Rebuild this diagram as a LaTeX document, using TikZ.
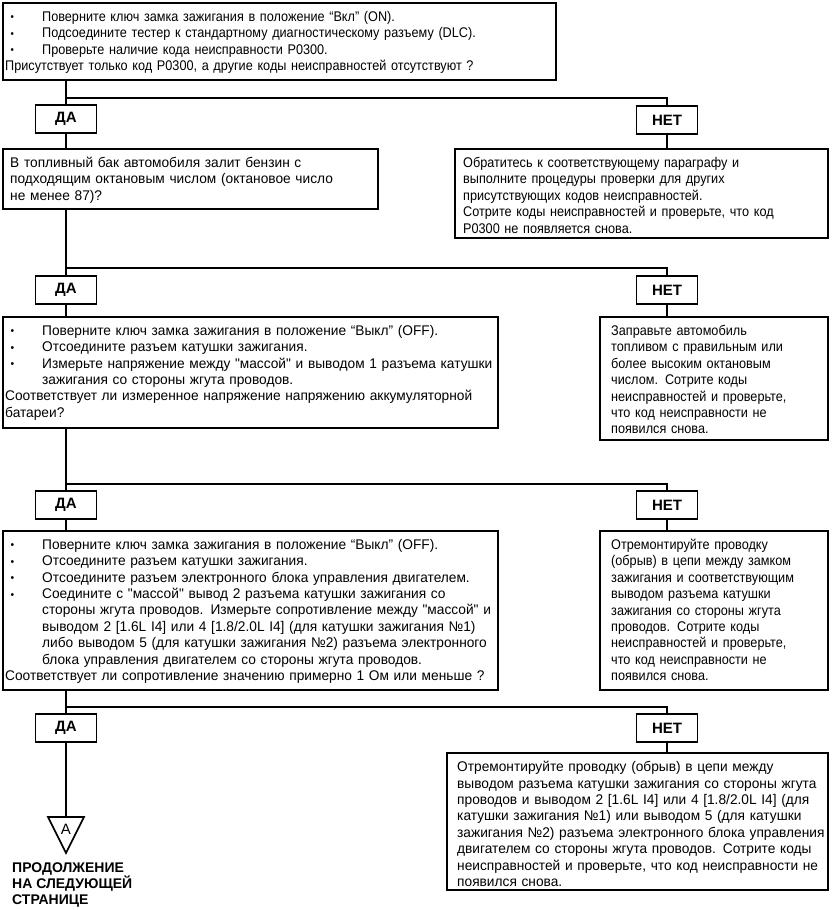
\documentclass[tikz,border=0pt]{standalone}
\usepackage{fontspec}
\setmainfont{Liberation Sans}
\newfontfamily\fN{Liberation Sans}[FakeStretch=0.905]
\newfontfamily\fW{Liberation Sans}[FakeStretch=0.98]
\usetikzlibrary{shadows}
\newcommand\bu{\makebox[37pt][l]{\hspace{5.5pt}\raisebox{0.5pt}{\fontsize{10.5}{10}\selectfont •}}}
\newcommand\ii{\hspace*{37pt}}
\newcommand\fs{\rule{0pt}{10pt}}
\begin{document}
\begin{tikzpicture}[x=1pt,y=-1pt,
  box/.style={draw, line width=1.6pt, fill=white, anchor=north west, inner sep=0, outer sep=0,
    drop shadow={shadow xshift=1.4pt, shadow yshift=-1.4pt, opacity=1, fill=black}},
  yn/.style={draw, line width=1.9pt, fill=white, minimum width=61pt, minimum height=28pt,
    inner sep=0, outer sep=0, font=\fontsize{15}{15}\selectfont\bfseries},
  txt/.style={anchor=north west, align=left, inner sep=0, text width=700pt,
    font=\fontsize{14}{16.4}\selectfont\fN},
  txtw/.style={txt, font=\fontsize{14}{16.4}\selectfont\fW},
  conn/.style={line width=1.6pt}]
\useasboundingbox (0,0) rectangle (832,910);

% ---- boxes ----
\node[box, minimum width=553pt, minimum height=77pt] (b1) at (3,3) {};
\node[txt] (t1) at (5,11) {\fs\bu Поверните ключ замка зажигания в положение “Вкл” (ON).\\
\bu Подсоедините тестер к стандартному диагностическому разъему (DLC).\\
\bu Проверьте наличие кода неисправности P0300.\\
Присутствует только код P0300, а другие коды неисправностей отсутствуют ?};

\node[box, minimum width=375pt, minimum height=60pt] (b2l) at (3,149) {};
\node[txtw] (t2l) at (10,157) {\fs В топливный бак автомобиля залит бензин с\\
подходящим октановым числом (октановое число\\
не менее 87)?};

\node[box, minimum width=373pt, minimum height=89pt] (b2r) at (455,149) {};
\node[txt] (t2r) at (463,157) {\fs Обратитесь к соответствующему параграфу и\\
выполните процедуры проверки для других\\
присутствующих кодов неисправностей.\\
Сотрите коды неисправностей и проверьте, что код\\
P0300 не появляется снова.};

\node[box, minimum width=495pt, minimum height=111pt] (b3l) at (3,317) {};
\node[txtw] (t3l) at (5,325) {\fs\bu Поверните ключ замка зажигания в положение “Выкл” (OFF).\\
\bu Отсоедините разъем катушки зажигания.\\
\bu Измерьте напряжение между "массой" и выводом 1 разъема катушки\\
\ii зажигания со стороны жгута проводов.\\
Соответствует ли измеренное напряжение напряжению аккумуляторной\\
батареи?};

\node[box, minimum width=228pt, minimum height=123pt] (b3r) at (600,317) {};
\node[txt] (t3r) at (611,325) {\fs Заправьте автомобиль\\
топливом с правильным или\\
более высоким октановым\\
числом. Сотрите коды\\
неисправностей и проверьте,\\
что код неисправности не\\
появился снова.};

\node[box, minimum width=495pt, minimum height=159pt] (b4l) at (3,531) {};
\node[txtw] (t4l) at (5,539) {\fs\bu Поверните ключ замка зажигания в положение “Выкл” (OFF).\\
\bu Отсоедините разъем катушки зажигания.\\
\bu Отсоедините разъем электронного блока управления двигателем.\\
\bu Соедините с "массой" вывод 2 разъема катушки зажигания со\\
\ii стороны жгута проводов. Измерьте сопротивление между "массой" и\\
\ii выводом 2 [1.6L I4] или 4 [1.8/2.0L I4] (для катушки зажигания №1)\\
\ii либо выводом 5 (для катушки зажигания №2) разъема электронного\\
\ii блока управления двигателем со стороны жгута проводов.\\
Соответствует ли сопротивление значению примерно 1 Ом или меньше ?};

\node[box, minimum width=228pt, minimum height=159pt] (b4r) at (600,531) {};
\node[txt] (t4r) at (611,539) {\fs Отремонтируйте проводку\\
(обрыв) в цепи между замком\\
зажигания и соответствующим\\
выводом разъема катушки\\
зажигания со стороны жгута\\
проводов. Сотрите коды\\
неисправностей и проверьте,\\
что код неисправности не\\
появился снова.};

\node[box, minimum width=381pt, minimum height=137pt] (b5r) at (447,753) {};
\node[txtw] (t5r) at (457,761) {\fs Отремонтируйте проводку (обрыв) в цепи между\\
выводом разъема катушки зажигания со стороны жгута\\
проводов и выводом 2 [1.6L I4] или 4 [1.8/2.0L I4] (для\\
катушки зажигания №1) или выводом 5 (для катушки\\
зажигания №2) разъема электронного блока управления\\
двигателем со стороны жгута проводов. Сотрите коды\\
неисправностей и проверьте, что код неисправности не\\
появился снова.};

% ---- yes / no ----
\node[yn] (y1) at (66,119) {ДА};
\node[yn] (n1) at (667,120) {НЕТ};
\node[yn] (y2) at (66,290) {ДА};
\node[yn] (n2) at (667,290) {НЕТ};
\node[yn] (y3) at (66,505) {ДА};
\node[yn] (n3) at (667,505) {НЕТ};
\node[yn] (y4) at (66,728) {ДА};
\node[yn] (n4) at (667,728) {НЕТ};

% ---- junctions ----
\coordinate (j1) at (66,98);
\coordinate (j2) at (66,268);
\coordinate (j3) at (66,484);
\coordinate (j4) at (66,707);

% ---- connectors ----
\draw[conn] (b1.south -| y1) -- (y1.north);
\draw[conn] (j1) -| (n1.north);
\draw[conn] (y1.south) -- (y1 |- b2l.north);
\draw[conn] (n1.south) -- (n1 |- b2r.north);

\draw[conn] (b2l.south -| y2) -- (y2.north);
\draw[conn] (j2) -| (n2.north);
\draw[conn] (y2.south) -- (y2 |- b3l.north);
\draw[conn] (n2.south) -- (n2 |- b3r.north);

\draw[conn] (b3l.south -| y3) -- (y3.north);
\draw[conn] (j3) -| (n3.north);
\draw[conn] (y3.south) -- (y3 |- b4l.north);
\draw[conn] (n3.south) -- (n3 |- b4r.north);

\draw[conn] (b4l.south -| y4) -- (y4.north);
\draw[conn] (j4) -| (n4.north);
\draw[conn] (n4.south) -- (n4 |- b5r.north);

% ---- off-page connector ----
\coordinate (tt) at (66,817);
\draw[conn] (y4.south) -- (tt);
\draw[line width=1.6pt, line join=miter] (48,817) -- (84,817) -- (66,853) -- cycle;
\node[font=\fontsize{15}{15}\selectfont, inner sep=0] (ta) at (66,829) {A};
\node[anchor=north west, align=left, inner sep=0, font=\fontsize{14}{16}\selectfont\bfseries] (cont) at (12,862)
  {\fs ПРОДОЛЖЕНИЕ\\НА СЛЕДУЮЩЕЙ\\СТРАНИЦЕ};
\end{tikzpicture}
\end{document}
